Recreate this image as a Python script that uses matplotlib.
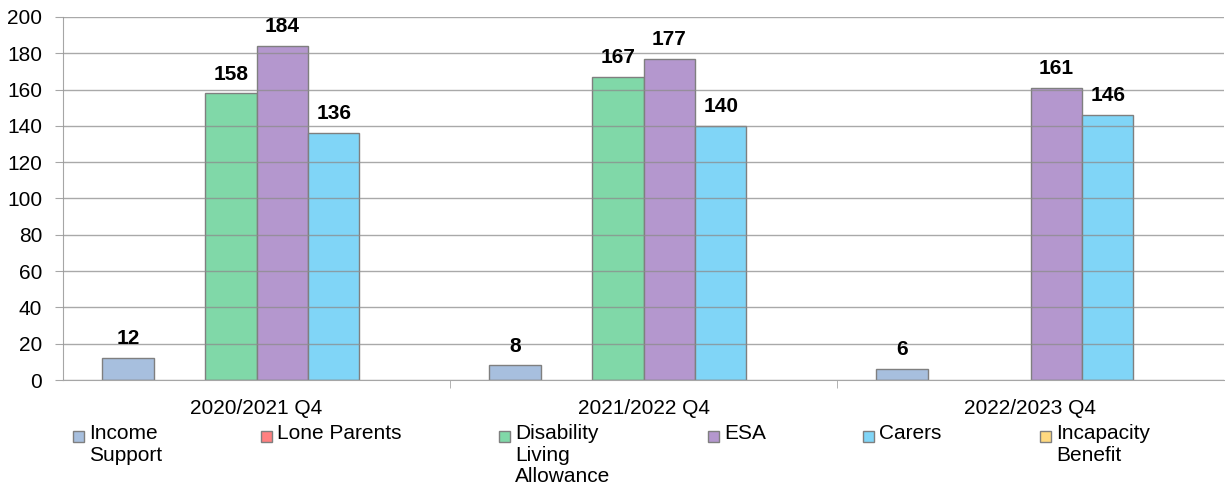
import numpy as np
import matplotlib
matplotlib.use("Agg")
import matplotlib.pyplot as plt
from matplotlib.patches import Rectangle

plt.rcParams['font.family'] = ['Liberation Sans', 'DejaVu Sans']

periods = ["2020/2021 Q4", "2021/2022 Q4", "2022/2023 Q4"]
series = ["Income Support", "Lone Parents", "Disability Living Allowance",
          "ESA", "Carers", "Incapacity Benefit"]
legend_labels = ["Income\nSupport", "Lone Parents", "Disability\nLiving\nAllowance",
                 "ESA", "Carers", "Incapacity\nBenefit"]
income_support = [12, 8, 6]
lone_parents = [0, 0, 0]
disability_living = [158, 167, 0]
esa = [184, 177, 161]
carers = [136, 140, 146]
incapacity = [0, 0, 0]
values = [income_support, lone_parents, disability_living, esa, carers, incapacity]
colors = ["#A7BFDE", "#FF8080", "#80D8A8", "#B497CE", "#80D5F7", "#FFD980"]

fs = 15

fig = plt.figure(figsize=(12.25, 4.86), dpi=100)
ax = fig.add_axes([63 / 1225, 1 - 380 / 486, 1161 / 1225, 363 / 486])

x = np.arange(len(periods))
w = 0.133
for i, (vals, c) in enumerate(zip(values, colors)):
    pos = x + (i - 2.5) * w
    for p, v in zip(pos, vals):
        if v <= 0:
            continue
        ax.bar(p, v, width=w, color=c, edgecolor="#7f7f7f", linewidth=1, zorder=2)
        ax.annotate(str(v), (p, v), xytext=(0, 7), textcoords="offset points",
                    ha="center", va="bottom", fontsize=fs, fontweight="bold")

ax.set_xlim(-0.5, 2.5)
ax.set_ylim(0, 200)
ax.set_yticks(range(0, 201, 20))
ax.set_xticks(x)
ax.set_xticklabels(periods)
ax.set_xticks([0.5, 1.5], minor=True)
ax.tick_params(axis="x", which="major", length=0, pad=14, labelsize=fs)
ax.tick_params(axis="x", which="minor", length=6, color="#a6a6a6")
ax.tick_params(axis="y", length=6, color="#a6a6a6", pad=9, labelsize=fs)
ax.yaxis.grid(True, color="#8c8c8c", linewidth=1, alpha=0.75, zorder=3)
ax.set_axisbelow(False)
for s in ["top", "right"]:
    ax.spines[s].set_visible(False)
ax.spines["left"].set_color("#a6a6a6")
ax.spines["bottom"].set_color("#a6a6a6")

# legend laid out like the spreadsheet one
leg_x = [73, 261, 499, 708, 863, 1040]
row_y = 436
for lx, lab, c in zip(leg_x, legend_labels, colors):
    fig.patches.append(Rectangle((lx / 1225, 1 - (row_y + 5.5) / 486), 11 / 1225, 11 / 486,
                                 facecolor=c, edgecolor="#7f7f7f", linewidth=1,
                                 transform=fig.transFigure, figure=fig))
    fig.text((lx + 16) / 1225, 1 - (row_y - 12) / 486, lab, ha="left", va="top",
             fontsize=fs, linespacing=1.17)

fig.savefig("out.png", dpi=100)
